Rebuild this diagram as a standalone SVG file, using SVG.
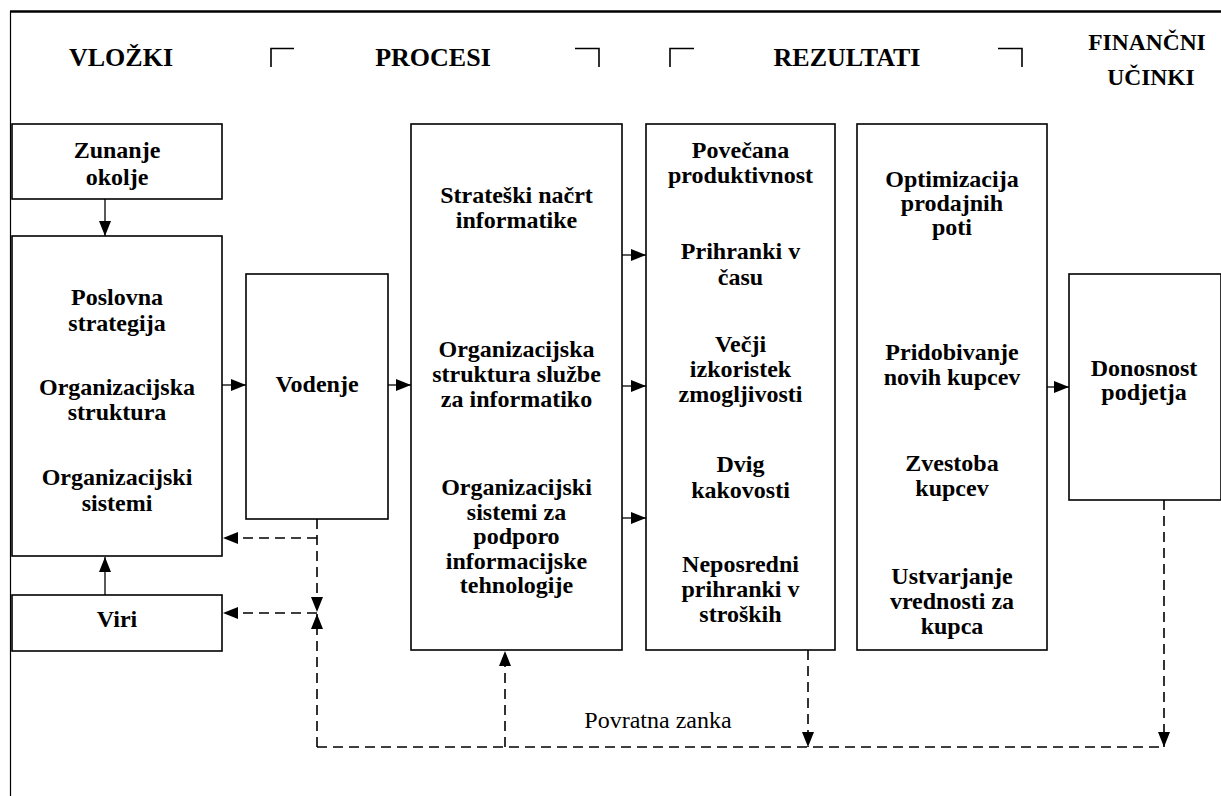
<svg xmlns="http://www.w3.org/2000/svg" width="1221" height="796" viewBox="0 0 1221 796">
<defs>
<style>
.box{fill:#fff;stroke:#000;stroke-width:1.6}
.t{font-family:"Liberation Serif","Times New Roman",serif;font-weight:bold;font-size:24px;text-anchor:middle;fill:#000}
.h{font-family:"Liberation Serif","Times New Roman",serif;font-weight:bold;font-size:26px;text-anchor:middle;fill:#000}
.h2{font-family:"Liberation Serif","Times New Roman",serif;font-weight:bold;font-size:23.5px;text-anchor:middle;fill:#000}
.lbl{font-family:"Liberation Serif","Times New Roman",serif;font-size:24px;text-anchor:middle;fill:#000}
.c{fill:none;stroke:#000;stroke-width:1.3}
.d{fill:none;stroke:#000;stroke-width:1.6;stroke-dasharray:10 6}
.br{fill:none;stroke:#000;stroke-width:1.6}
</style>
<marker id="ah" markerUnits="userSpaceOnUse" markerWidth="16" markerHeight="14" refX="15" refY="6" orient="auto">
<path d="M0,0 L15,6 L0,12 Z" fill="#000"/>
</marker>
</defs>
<rect width="1221" height="796" fill="#fff"/>
<g id="frame">
<line x1="10" y1="11.5" x2="1221" y2="11.5" stroke="#000" stroke-width="2.5"/>
<line x1="10.5" y1="11" x2="10.5" y2="796" stroke="#000" stroke-width="1.2"/>
</g>
<g id="headers">
<text class="h" x="121" y="66">VLOŽKI</text>
<text class="h" x="433" y="66">PROCESI</text>
<text class="h" x="847" y="66">REZULTATI</text>
<text class="h2" x="1147" y="50">FINANČNI</text>
<text class="h2" x="1151" y="85">UČINKI</text>
<path class="br" d="M271,67 V48.5 H294"/>
<path class="br" d="M575,48.5 H599 V67"/>
<path class="br" d="M670,67 V48.5 H694"/>
<path class="br" d="M998,48.5 H1022 V67"/>
</g>
<g id="zunanje">
<rect class="box" x="12" y="124" width="210" height="75"/>
<text class="t" x="117" y="158">Zunanje</text>
<text class="t" x="117" y="185">okolje</text>
</g>
<g id="poslovna">
<rect class="box" x="12" y="236" width="210" height="320"/>
<text class="t" x="117" y="305">Poslovna</text>
<text class="t" x="117" y="331">strategija</text>
<text class="t" x="117" y="395">Organizacijska</text>
<text class="t" x="117" y="420">struktura</text>
<text class="t" x="117" y="485">Organizacijski</text>
<text class="t" x="117" y="511">sistemi</text>
</g>
<g id="viri">
<rect class="box" x="12" y="595" width="210" height="56"/>
<text class="t" x="117" y="627">Viri</text>
</g>
<g id="vodenje">
<rect class="box" x="246" y="274" width="142" height="245"/>
<text class="t" x="317" y="392">Vodenje</text>
</g>
<g id="procesi">
<rect class="box" x="411" y="124" width="211" height="526"/>
<text class="t" x="516.5" y="203">Strateški načrt</text>
<text class="t" x="516.5" y="228">informatike</text>
<text class="t" x="516.5" y="357">Organizacijska</text>
<text class="t" x="516.5" y="382">struktura službe</text>
<text class="t" x="516.5" y="407">za informatiko</text>
<text class="t" x="516.5" y="495">Organizacijski</text>
<text class="t" x="516.5" y="519.5">sistemi za</text>
<text class="t" x="516.5" y="544">podporo</text>
<text class="t" x="516.5" y="568.5">informacijske</text>
<text class="t" x="516.5" y="593">tehnologije</text>
</g>
<g id="rezultati">
<rect class="box" x="646" y="124" width="189" height="526"/>
<text class="t" x="740.5" y="158">Povečana</text>
<text class="t" x="740.5" y="183">produktivnost</text>
<text class="t" x="740.5" y="259">Prihranki v</text>
<text class="t" x="740.5" y="285">času</text>
<text class="t" x="740.5" y="352">Večji</text>
<text class="t" x="740.5" y="377">izkoristek</text>
<text class="t" x="740.5" y="402">zmogljivosti</text>
<text class="t" x="740.5" y="472">Dvig</text>
<text class="t" x="740.5" y="498">kakovosti</text>
<text class="t" x="740.5" y="572">Neposredni</text>
<text class="t" x="740.5" y="597">prihranki v</text>
<text class="t" x="740.5" y="622">stroških</text>
</g>
<g id="kupci">
<rect class="box" x="857" y="124" width="190" height="526"/>
<text class="t" x="952" y="187">Optimizacija</text>
<text class="t" x="952" y="211">prodajnih</text>
<text class="t" x="952" y="235">poti</text>
<text class="t" x="952" y="360">Pridobivanje</text>
<text class="t" x="952" y="385">novih kupcev</text>
<text class="t" x="952" y="471">Zvestoba</text>
<text class="t" x="952" y="496">kupcev</text>
<text class="t" x="952" y="584">Ustvarjanje</text>
<text class="t" x="952" y="609">vrednosti za</text>
<text class="t" x="952" y="634">kupca</text>
</g>
<g id="donosnost">
<rect class="box" x="1069" y="274" width="152" height="226"/>
<text class="t" x="1144" y="376">Donosnost</text>
<text class="t" x="1144" y="400">podjetja</text>
</g>
<g id="connectors">
<line class="c" x1="105" y1="199" x2="105" y2="236" marker-end="url(#ah)"/>
<line class="c" x1="105" y1="595" x2="105" y2="557" marker-end="url(#ah)"/>
<line class="c" x1="222" y1="385" x2="246" y2="385" marker-end="url(#ah)"/>
<line class="c" x1="388" y1="385" x2="411" y2="385" marker-end="url(#ah)"/>
<line class="c" x1="622" y1="255" x2="646" y2="255" marker-end="url(#ah)"/>
<line class="c" x1="622" y1="386" x2="646" y2="386" marker-end="url(#ah)"/>
<line class="c" x1="622" y1="518" x2="646" y2="518" marker-end="url(#ah)"/>
<line class="c" x1="1047" y1="387" x2="1069" y2="387" marker-end="url(#ah)"/>
<line class="d" x1="317" y1="519" x2="317" y2="612" marker-end="url(#ah)"/>
<line class="d" x1="317" y1="538" x2="223" y2="538" marker-end="url(#ah)"/>
<line class="d" x1="317" y1="613" x2="223" y2="613" marker-end="url(#ah)"/>
<line class="d" x1="317" y1="747" x2="317" y2="614" marker-end="url(#ah)"/>
<line class="d" x1="317" y1="747" x2="1164" y2="747"/>
<line class="d" x1="505" y1="747" x2="505" y2="651" marker-end="url(#ah)"/>
<line class="d" x1="808" y1="650" x2="808" y2="747" marker-end="url(#ah)"/>
<line class="d" x1="1164" y1="500" x2="1164" y2="747" marker-end="url(#ah)"/>
<text class="lbl" x="658" y="728">Povratna zanka</text>
</g>
</svg>
